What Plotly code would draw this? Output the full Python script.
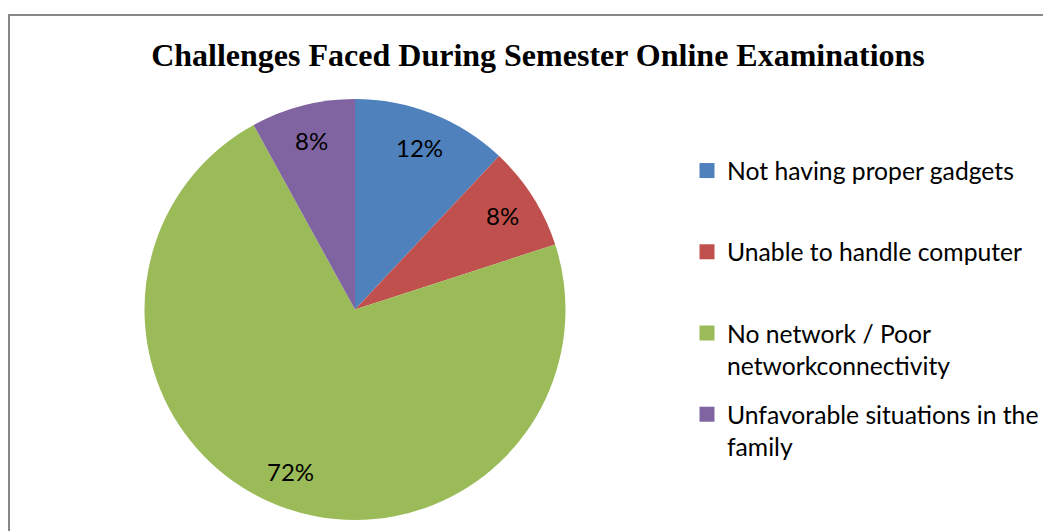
import math
import plotly.graph_objects as go

# --- data ---
labels = [
    "Not having proper gadgets",
    "Unable to handle computer",
    "No network / Poor<br>networkconnectivity",
    "Unfavorable situations in the<br>family",
]
values = [12, 8, 72, 8]
colors = ["#4F81BD", "#C0504D", "#9BBB59", "#8064A2"]

# the page body has an 8px margin, so the figure is drawn 8px smaller and
# all positions below are given in screenshot pixels, then shifted back
OFF = 8
W, H = 1051 - OFF, 531 - OFF


def px(x):
    return (x - OFF) / W


def py(y):
    return 1 - (y - OFF) / H


# pie geometry (screenshot pixels)
cx, cy, r = 355, 309.5, 210.5

fig = go.Figure()
fig.add_trace(
    go.Pie(
        labels=labels,
        values=values,
        marker=dict(colors=colors, line=dict(width=0)),
        sort=False,
        direction="clockwise",
        rotation=0,
        textinfo="none",
        hoverinfo="label+percent",
        showlegend=False,
        domain=dict(x=[px(cx - r), px(cx + r)], y=[py(cy + r), py(cy - r)]),
    )
)

# legend entries: one group per slice so spacing can be set with tracegroupgap
for i, (lab, col) in enumerate(zip(labels, colors)):
    name = lab if "<br>" in lab else lab + "<br> "
    fig.add_trace(
        go.Scatter(
            x=[None], y=[None], mode="markers", name=name,
            marker=dict(symbol="square", size=15, color=col),
            legendgroup=str(i), showlegend=True,
        )
    )

# percentage labels placed along each slice bisector
total = sum(values)
cum = 0
for v in values:
    mid = (cum + v / 2) / total * 2 * math.pi
    cum += v
    lx = cx + 0.83 * r * math.sin(mid)
    ly = cy - 0.83 * r * math.cos(mid)
    fig.add_annotation(
        x=px(lx), y=py(ly), xref="paper", yref="paper",
        xanchor="center", yanchor="middle",
        text=f"{round(v / total * 100)}%", showarrow=False,
        font=dict(family="Lato", size=24, color="black"),
    )

# chart frame (runs off the right and bottom edges like the original)
fig.add_shape(
    type="rect", xref="paper", yref="paper",
    x0=px(9), y0=-0.05, x1=1.05, y1=py(15),
    line=dict(color="#878787", width=2),
)

fig.update_layout(
    width=W, height=H,
    margin=dict(l=0, r=0, t=0, b=0),
    paper_bgcolor="white",
    plot_bgcolor="white",
    xaxis=dict(visible=False),
    yaxis=dict(visible=False),
    title=dict(
        text="<b>Challenges Faced During Semester Online Examinations</b>",
        x=px(538), xanchor="center", y=py(54.5), yanchor="middle",
        font=dict(family="Liberation Serif", size=32, color="black"),
    ),
    legend=dict(
        x=px(687), xanchor="left", y=py(148), yanchor="top",
        font=dict(family="Lato", size=24.7, color="black"),
        traceorder="grouped", tracegroupgap=14, valign="top",
    ),
)

fig.write_html("out.html")
